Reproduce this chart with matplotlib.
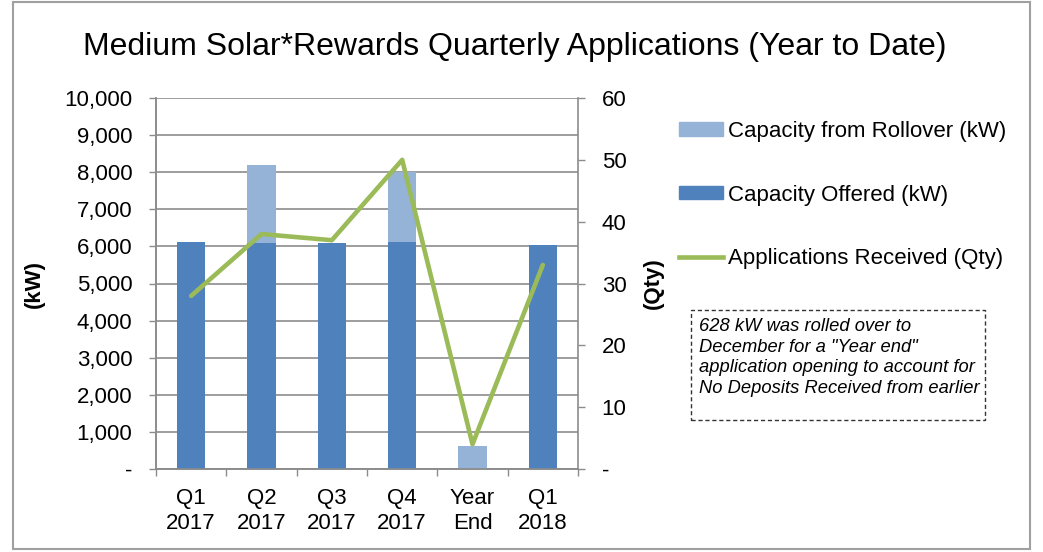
import matplotlib
matplotlib.use("Agg")
import matplotlib.pyplot as plt
import numpy as np
from matplotlib.patches import Rectangle, Patch
from matplotlib.lines import Line2D

plt.rcParams['font.family'] = ['Liberation Sans', 'DejaVu Sans']

QUARTERS = ["Q1\n2017", "Q2\n2017", "Q3\n2017", "Q4\n2017", "Year\nEnd", "Q1\n2018"]
CAPACITY_OFFERED = [6125, 6085, 6095, 6130, 0, 6040]
CAPACITY_ROLLOVER = [0, 2115, 0, 1870, 628, 0]
APPLICATIONS = [28, 38, 37, 50, 4, 33]

DARK_BLUE = "#4F81BD"
LIGHT_BLUE = "#95B3D7"
GREEN = "#9BBB59"
GRID_GREY = "#8C8C8C"
FS = 16

W, H = 1043, 552
fig = plt.figure(figsize=(W / 100, H / 100), dpi=100)

# outer chart border
fig.patches.append(Rectangle((13 / W, 1 - 549 / H), (1030 - 13) / W, (549 - 2) / H,
                             transform=fig.transFigure, fill=False, edgecolor="#A0A0A0", lw=1.5))

ax = fig.add_axes([156 / W, 1 - 469 / H, (578 - 156) / W, (469 - 98) / H])
ax2 = ax.twinx()

x = np.arange(len(QUARTERS))
ax.bar(x, CAPACITY_OFFERED, width=0.4, color=DARK_BLUE, zorder=3)
ax.bar(x, CAPACITY_ROLLOVER, width=0.4, bottom=CAPACITY_OFFERED, color=LIGHT_BLUE, zorder=3)
ax2.plot(x, APPLICATIONS, color=GREEN, lw=3.3, solid_capstyle="round", zorder=4)

ax.set_xlim(-0.5, len(QUARTERS) - 0.5)
ax.set_ylim(0, 10000)
ax2.set_ylim(0, 60)

ax.set_yticks(np.arange(0, 10001, 1000))
ax.set_yticklabels(["-"] + ["{:,}".format(v) for v in range(1000, 10001, 1000)])
ax2.set_yticks(np.arange(0, 61, 10))
ax2.set_yticklabels(["-"] + [str(v) for v in range(10, 61, 10)])

ax.set_xticks(x)
ax.set_xticklabels(QUARTERS, linespacing=1.25)
ax.set_xticks(np.arange(-0.5, len(QUARTERS), 1), minor=True)
ax.tick_params(axis="x", which="major", length=0, pad=13.5, labelsize=FS)
ax.tick_params(axis="x", which="minor", length=5, color=GRID_GREY, width=1)
ax.tick_params(axis="y", length=5, color=GRID_GREY, width=1, labelsize=FS, pad=12)
ax2.tick_params(axis="y", length=5, color=GRID_GREY, width=1, labelsize=FS, pad=12)

ax.yaxis.grid(True, color=GRID_GREY, lw=1.2, zorder=0)
ax.set_axisbelow(True)
for a in (ax, ax2):
    a.spines["top"].set_visible(False)
    for s in ("left", "right", "bottom"):
        a.spines[s].set_color(GRID_GREY)
        a.spines[s].set_linewidth(1.2)
ax.spines["right"].set_visible(False)

ax.set_ylabel("(kW)", fontsize=FS, fontweight="bold", labelpad=14)
ax2.set_ylabel("(Qty)", fontsize=FS, fontweight="bold", labelpad=12)

fig.text(515 / W, 1 - 47 / H, "Medium Solar*Rewards Quarterly Applications (Year to Date)",
         ha="center", va="center", fontsize=23)

handles = [Patch(color=LIGHT_BLUE), Patch(color=DARK_BLUE), Line2D([], [], color=GREEN, lw=3.3)]
labels = ["Capacity from Rollover (kW)", "Capacity Offered (kW)", "Applications Received (Qty)"]
fig.legend(handles, labels, loc="upper left", bbox_to_anchor=(670 / W, 1 - 112 / H),
           frameon=False, fontsize=FS, handlelength=2.0, handleheight=0.55,
           handletextpad=0.2, labelspacing=1.92, borderaxespad=0)

# note box
fig.patches.append(Rectangle((691 / W, 1 - 420 / H), (985 - 691) / W, (420 - 310) / H,
                             transform=fig.transFigure, fill=False, edgecolor="#333333",
                             lw=1, linestyle=(0, (3, 2))))
fig.text(699 / W, 1 - 318 / H,
         "628 kW was rolled over to\nDecember for a \"Year end\"\napplication opening to account for\nNo Deposits Received from earlier",
         ha="left", va="top", fontsize=13.2, style="italic", linespacing=1.28)

fig.savefig("out.png", dpi=100)
